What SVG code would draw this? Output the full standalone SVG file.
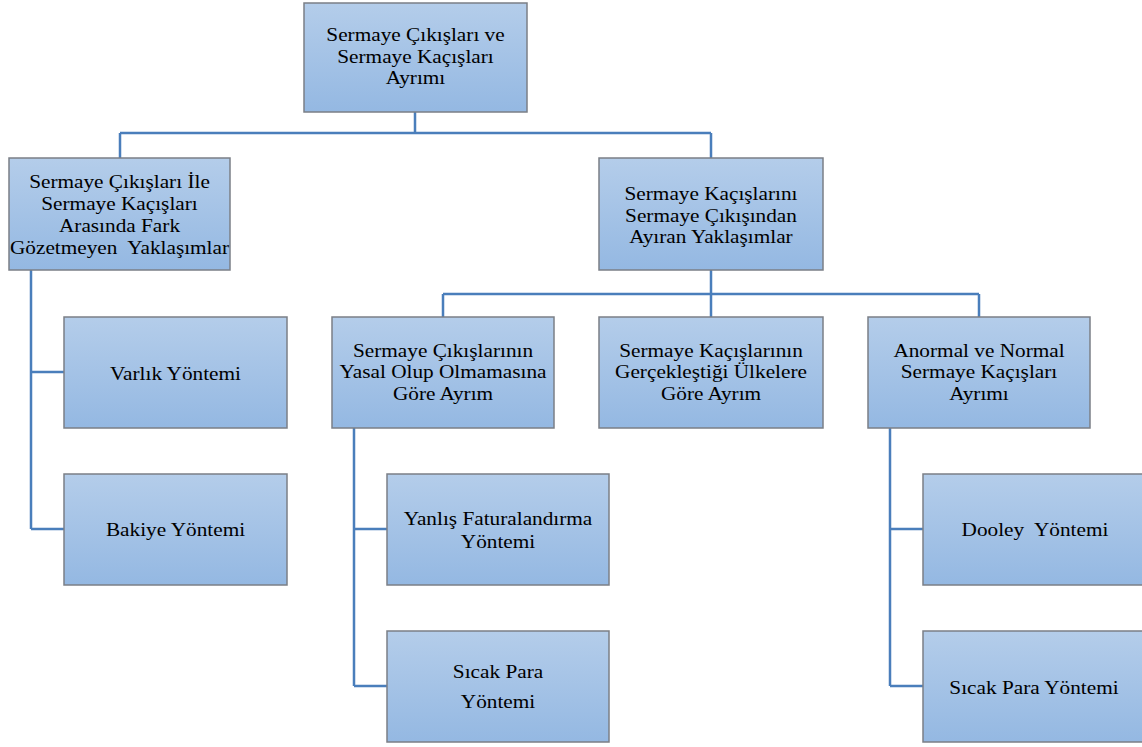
<svg xmlns="http://www.w3.org/2000/svg" width="1142" height="747" viewBox="0 0 1142 747">
<defs>
<linearGradient id="g" x1="0" y1="0" x2="0" y2="1">
<stop offset="0" stop-color="#b4cdea"/>
<stop offset="1" stop-color="#94b8e2"/>
</linearGradient>
<style>
.box{fill:url(#g);stroke:#7b7f86;stroke-width:1.5}
.t{font-family:"Liberation Serif","Times New Roman",serif;font-size:19px;fill:#000;text-anchor:middle}
.c{fill:none;stroke:#4a7ebb;stroke-width:2.5}
</style>
</defs>
<rect width="1142" height="747" fill="#fff"/>
<g id="connectors">
<path class="c" d="M415 112V133M120 133H711M120 133V158M711 133V158"/>
<path class="c" d="M31 270V529M31 372H64M31 529H64"/>
<path class="c" d="M711 270V294M443 294H979M443 294V317M711 294V317M979 294V317"/>
<path class="c" d="M354 428V686M354 529H387M354 686H387"/>
<path class="c" d="M890 428V686M890 529H923M890 686H923"/>
</g>
<g id="n0"><rect class="box" x="304" y="3" width="223" height="109"/>
<g transform="translate(415.5 0) scale(1.12 1)"><text class="t" x="0" y="41">Sermaye Çıkışları ve</text><text class="t" x="0" y="63">Sermaye Kaçışları</text><text class="t" x="0" y="84">Ayrımı</text></g></g>
<g id="n1"><rect class="box" x="9" y="158" width="221" height="112"/>
<g transform="translate(119.5 0) scale(1.12 1)"><text class="t" x="0" y="188">Sermaye Çıkışları İle</text><text class="t" x="0" y="210">Sermaye Kaçışları</text><text class="t" x="0" y="232">Arasında Fark</text><text class="t" x="0" y="254" xml:space="preserve">Gözetmeyen  Yaklaşımlar</text></g></g>
<g id="n2"><rect class="box" x="599" y="158" width="224" height="112"/>
<g transform="translate(711 0) scale(1.12 1)"><text class="t" x="0" y="200">Sermaye Kaçışlarını</text><text class="t" x="0" y="222">Sermaye Çıkışından</text><text class="t" x="0" y="243">Ayıran Yaklaşımlar</text></g></g>
<g id="n3"><rect class="box" x="64" y="317" width="223" height="111"/>
<g transform="translate(175.5 0) scale(1.12 1)"><text class="t" x="0" y="380">Varlık Yöntemi</text></g></g>
<g id="n4"><rect class="box" x="64" y="474" width="223" height="111"/>
<g transform="translate(175.5 0) scale(1.12 1)"><text class="t" x="0" y="536">Bakiye Yöntemi</text></g></g>
<g id="n5"><rect class="box" x="332" y="317" width="222" height="111"/>
<g transform="translate(443 0) scale(1.12 1)"><text class="t" x="0" y="357">Sermaye Çıkışlarının</text><text class="t" x="0" y="378">Yasal Olup Olmamasına</text><text class="t" x="0" y="400">Göre Ayrım</text></g></g>
<g id="n6"><rect class="box" x="599" y="317" width="224" height="111"/>
<g transform="translate(711 0) scale(1.12 1)"><text class="t" x="0" y="357">Sermaye Kaçışlarının</text><text class="t" x="0" y="378">Gerçekleştiği Ülkelere</text><text class="t" x="0" y="400">Göre Ayrım</text></g></g>
<g id="n7"><rect class="box" x="868" y="317" width="222" height="111"/>
<g transform="translate(979 0) scale(1.12 1)"><text class="t" x="0" y="357">Anormal ve Normal</text><text class="t" x="0" y="378">Sermaye Kaçışları</text><text class="t" x="0" y="400">Ayrımı</text></g></g>
<g id="n8"><rect class="box" x="387" y="474" width="222" height="111"/>
<g transform="translate(498 0) scale(1.12 1)"><text class="t" x="0" y="525">Yanlış Faturalandırma</text><text class="t" x="0" y="548">Yöntemi</text></g></g>
<g id="n9"><rect class="box" x="387" y="631" width="222" height="111"/>
<g transform="translate(498 0) scale(1.12 1)"><text class="t" x="0" y="678">Sıcak Para</text><text class="t" x="0" y="708">Yöntemi</text></g></g>
<g id="n10"><rect class="box" x="923" y="474" width="222" height="111"/>
<g transform="translate(1035 0) scale(1.12 1)"><text class="t" x="0" y="536" xml:space="preserve">Dooley  Yöntemi</text></g></g>
<g id="n11"><rect class="box" x="923" y="631" width="222" height="111"/>
<g transform="translate(1034 0) scale(1.12 1)"><text class="t" x="0" y="694">Sıcak Para Yöntemi</text></g></g>
</svg>
